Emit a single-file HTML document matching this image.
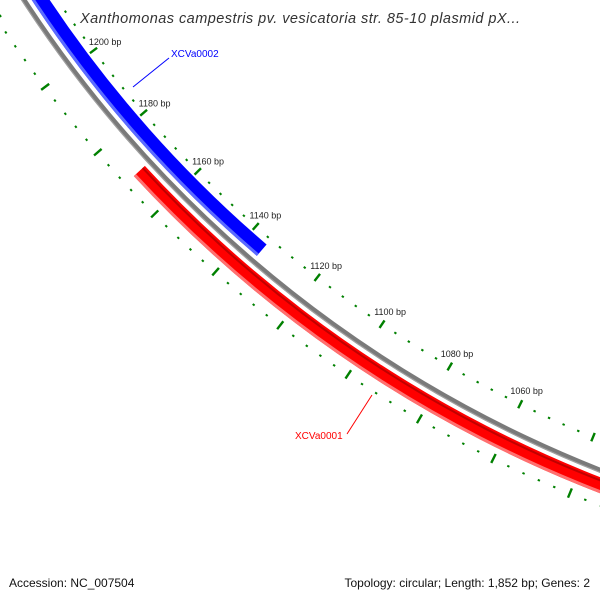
<!DOCTYPE html>
<html><head><meta charset="utf-8"><style>
html,body{margin:0;padding:0;background:#fff;}
svg{display:block;font-family:"Liberation Sans",sans-serif;}
</style></head><body>
<svg id="map" width="600" height="600" viewBox="0 0 600 600" xmlns="http://www.w3.org/2000/svg">
<rect width="600" height="600" fill="#fff"/>
<g id="ticks"></g>
<g id="backbone"></g>
<g id="genes"></g>
<g id="labels"></g>
<text x="80" y="23" font-size="14.5" font-style="italic" fill="#333" textLength="440">Xanthomonas campestris pv. vesicatoria str. 85-10 plasmid pX...</text>
<text x="9" y="587" font-size="12" fill="#111">Accession: NC_007504</text>
<text x="590" y="587" font-size="12" fill="#111" text-anchor="end">Topology: circular; Length: 1,852 bp; Genes: 2</text>
</svg>
<script>
const genomeLength = 1852;
const geneNames = ["XCVa0002", "XCVa0001"];
const geneStarts = [1135, 960];
const geneEnds = [1300, 1170];
const geneColors = ["#0000ff", "#ff0000"];
const tickLabelValues = [1060, 1080, 1100, 1120, 1140, 1160, 1180, 1200];

const CX = 1049, CY = -668, DR = 5;
const NS = "http://www.w3.org/2000/svg";
function ang(bp){ const b = 1130 + (bp-1130)*0.985; return (-90 + b*360/genomeLength)*Math.PI/180; }
function pt(r,bp){ const a=ang(bp); r+=DR; return [CX+r*Math.cos(a), CY+r*Math.sin(a)]; }
function mk(tag, attrs, parent){ const e=document.createElementNS(NS,tag); for(const k in attrs) e.setAttribute(k,attrs[k]); parent.appendChild(e); return e; }
function arcPath(r, b1, b2){ const p1=pt(r,b1), p2=pt(r,b2); const R=r+DR; return `M${p1[0]},${p1[1]} A${R},${R} 0 0 1 ${p2[0]},${p2[1]}`; }
function band(r1, r2, b1, b2){
  const a=pt(r2,b1), b=pt(r2,b2), c=pt(r1,b2), d=pt(r1,b1);
  const R1=r1+DR, R2=r2+DR;
  return `M${a[0]},${a[1]} A${R2},${R2} 0 0 1 ${b[0]},${b[1]} L${c[0]},${c[1]} A${R1},${R1} 0 0 0 ${d[0]},${d[1]} Z`;
}

// ticks
const tg = document.getElementById('ticks');
for (let bp=900; bp<=1320; bp+=4){
  const major = bp%20===0;
  let r1 = major?1186:1189.5, r2 = major?1195:1191.5;
  let p1=pt(r1,bp), p2=pt(r2,bp);
  let t=mk('line',{x1:p1[0],y1:p1[1],x2:p2[0],y2:p2[1],stroke:'#008000','stroke-width':2.4},tg);
  
  
  r1 = major?1246:1250.5; r2 = major?1256:1252.5;
  p1=pt(r1,bp); p2=pt(r2,bp);
  t=mk('line',{x1:p1[0],y1:p1[1],x2:p2[0],y2:p2[1],stroke:'#008000','stroke-width':2.4},tg);
  
  
}
const lg = document.getElementById('labels');
tickLabelValues.forEach(v=>{
  const p=pt(1176,v);
  const t=mk('text',{x:p[0],y:p[1]+3,'font-size':9,fill:'#222','text-anchor':'middle'},lg);
  t.textContent = v+' bp';
  
  
});

// backbone
const bb = document.getElementById('backbone');
let b = mk('path',{d:arcPath(1218.5,900,1320),fill:'none',stroke:'#7a7a7a','stroke-width':5},bb);


mk('path',{d:arcPath(1220.5,900,1320),fill:'none',stroke:'#a0a0a0','stroke-width':1.2},bb);

// genes
const gg = document.getElementById('genes');
const geneRadii = [[1197,1212],[1225,1240]];
geneNames.forEach((n,i)=>{
  const [r1,r2]=geneRadii[i];
  const g = mk('g',{},gg);
  
  
  mk('path',{d:band(r1,r2,geneStarts[i],geneEnds[i]),fill:geneColors[i]},g);
  const light = i===0?'#5a6bff':'#ff7070';
  const dark = i===0?'#0000d0':'#c00000';
  mk('path',{d:band(r2-3,r2,geneStarts[i],geneEnds[i]),fill:light},g);
  if(i===1) mk('path',{d:band(r1+2,r1+4,geneStarts[i],geneEnds[i]),fill:dark},g);
});

// gene labels
let ln = mk('line',{x1:133,y1:87,x2:169,y2:58,stroke:'#0000ff','stroke-width':1},lg);
 
let tx = mk('text',{x:171,y:57,'font-size':10,fill:'#0000ff'},lg);
tx.textContent='XCVa0002';
 
ln = mk('line',{x1:347,y1:434,x2:372,y2:395,stroke:'#ff0000','stroke-width':1},lg);
 
tx = mk('text',{x:295,y:439,'font-size':10,fill:'#ff0000'},lg);
tx.textContent='XCVa0001';
 
</script>
</body></html>
